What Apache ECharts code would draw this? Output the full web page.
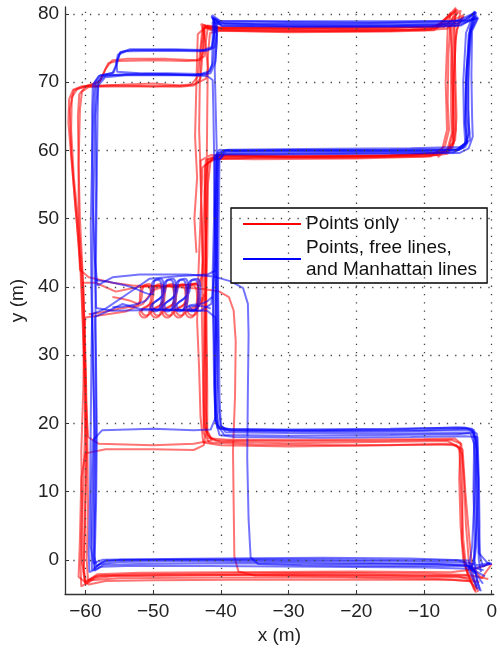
<!DOCTYPE html>
<html>
<head>
<meta charset="utf-8">
<script src="https://cdn.jsdelivr.net/npm/echarts@6/dist/echarts.min.js"></script>
<style>
  html, body { margin: 0; padding: 0; background: #fff; }
  #chart { width: 500px; height: 650px; }
</style>
</head>
<body>
<div id="chart"></div>
<script>
// tick values
var xTicks = [-60, -50, -40, -30, -20, -10, 0];
var yTicks = [0, 10, 20, 30, 40, 50, 60, 70, 80];

var redName = 'Points only';
var blueName = 'Points, free lines,\nand Manhattan lines';

// red tracks (points only), [x, y] in metres
var red1 = [[-2.4,-4.6],[-3.2,-2.9],[-5,-2.4],[-15,-2.2],[-30,-2.1],[-45,-2.3],[-56,-2.4],[-58.6,-2.7],[-60,-3.6],[-60.3,-1.8],[-60.1,5],[-59.9,15],[-60.1,25],[-60.4,35],[-60.7,42],[-61.3,50],[-62,58],[-62.5,64],[-62.4,67.5],[-61.8,68.9],[-60.5,69.4],[-55,69.6],[-50,69.8],[-46,69.5],[-44.3,69.7],[-43.4,70.8],[-43.1,74],[-42.8,77],[-42.6,78.4],[-41.8,77.9],[-38,77.7],[-25,77.6],[-12,77.7],[-8,77.9],[-5.3,80.9],[-6.1,78.3],[-6.4,74],[-6.5,67],[-6.3,63],[-6.9,60.6],[-8.6,59.5],[-20,59.1],[-32,59],[-40.2,58.9],[-41.9,58.3],[-42.4,54],[-42.6,45],[-42.8,36],[-42.6,26],[-42.4,20],[-41.9,17.9],[-40,17.3],[-30,17.1],[-15,17.3],[-6.5,17.4],[-4.8,16.5],[-4.5,10],[-4.2,3],[-3.8,-1],[-2.6,-4.4]];
var red2 = [[-0.3,-0.6],[-2.8,-1.4],[-6,-1.8],[-20,-1.7],[-40,-1.8],[-52,-1.9],[-58.2,-2.1],[-59.9,-3.2],[-60.5,-0.5],[-60.4,8],[-60.1,17],[-59.9,26],[-60.2,34],[-60.4,40.6],[-58.5,40.6],[-55.5,39.3],[-52,40],[-47,40.1],[-43.7,40.4],[-42.9,40.1],[-42.7,44],[-42.9,52],[-43,58.5],[-41.5,59.3],[-30,59.1],[-15,59.2],[-7.8,59.4],[-5.8,60.4],[-5.3,63],[-5.5,70],[-5.4,76],[-4.6,80.5],[-7.2,77.9],[-15,77.5],[-30,77.4],[-40,77.5],[-41.6,77.2],[-41.9,74],[-42,66],[-42.1,55],[-42.2,45],[-42.1,35],[-42,25],[-42,19],[-41.3,17.5],[-44,17],[-50,16.8],[-58,17],[-59.6,18],[-60,25],[-60.3,33],[-60.6,42],[-61.5,52],[-62.1,60],[-62.3,66],[-61.7,68.8],[-59.3,69.6],[-57.8,70.2],[-57,72],[-56,73.2],[-54,73.4],[-48,73.4],[-43.5,73.2],[-42.4,73.8],[-42.2,76],[-41.9,78.2],[-40,77.9],[-25,77.8],[-10,77.6],[-6.7,77.8],[-4.1,79.6],[-5.6,78],[-5.8,70],[-5.6,63],[-6.3,60.3],[-8,59]];
var red3 = [[-3,-2.6],[-12,-2.5],[-25,-2.4],[-35,-2.3],[-37.4,-1.7],[-38,0.5],[-38.1,8],[-38.2,16],[-37.9,24],[-37.8,32],[-38.1,36.5],[-38.8,38.5],[-40.2,39.3],[-42.5,39.7],[-48,40.1],[-53,40.2],[-56,40.6],[-59.5,41.4],[-60.8,42.5],[-61,50],[-61,58],[-61.1,65],[-60.9,68.2],[-60,69.3],[-56,69.5],[-50,69.4],[-45,69.5],[-43.8,69.7],[-42.2,70.5],[-41.9,72],[-42.3,76],[-42.5,78],[-41.2,77.9],[-30,77.9],[-15,78],[-9,78.1],[-7,78.6],[-5.3,80.7],[-5.5,78.5],[-5.4,72],[-5.2,65],[-5.4,61.5],[-6.8,59.7],[-15,59.2],[-30,59.1],[-40,59.2],[-41.5,58.6],[-41.9,55],[-42,45],[-42.3,35],[-42.4,25],[-42.5,19.5],[-41.5,17.8],[-39,17.6],[-25,17.6],[-10,17.7],[-5.5,17.8],[-4.6,17.1],[-4.8,12],[-4.6,5],[-4.2,0],[-3.5,-2.3],[-2.8,-3]];
var red4 = [[-2.2,-4.2],[-3.3,-3.1],[-8,-2.8],[-22,-2.6],[-40,-2.6],[-55,-2.7],[-59.2,-3],[-60.6,-3.9],[-60.7,-1],[-60.5,8],[-60.6,16],[-60.3,25],[-60.2,32],[-60,35.5],[-58,35.8],[-54,36.4],[-51.5,37.5],[-50,39.5],[-48,40.2],[-45,40.3],[-43.2,40.6],[-42.6,42],[-42.8,50],[-43,57],[-43.2,63],[-43.1,70],[-42.9,75],[-42.5,78.1],[-41.5,77.6],[-30,77.3],[-15,77.4],[-8.5,77.6],[-6,80.2],[-6.5,77.8],[-6.8,70],[-6.6,63],[-7.3,60.2],[-9,59.1],[-20,58.8],[-35,58.7],[-41.2,58.8],[-42.7,57.5],[-43,50],[-43.3,42],[-43.5,35],[-43.2,28],[-43,21],[-42.6,17.2],[-40,16.8],[-30,16.6],[-15,16.8],[-6,17],[-4.3,16.2],[-3.9,10],[-3.3,3],[-2.9,-1],[-1.5,-2.7],[0,-0.6]];
var red5 = [[-1.8,-3.2],[-6,-2.9],[-20,-2.9],[-38,-2.9],[-50,-3],[-57,-3.1],[-59.5,-3.6],[-61,-2.5],[-60.8,3],[-60.6,12],[-60,15.6],[-57,16.2],[-50,16.2],[-44,16.1],[-42.5,16.8],[-42.2,19],[-42.1,28],[-42.3,38],[-42.2,48],[-42.4,56],[-42.2,58.6],[-40.5,59.1],[-25,59],[-10,59.1],[-6.5,59.5],[-5.6,61],[-5.7,68],[-5.9,75],[-6.2,78.2],[-9,78],[-25,78.1],[-40,78],[-42,78.3],[-43.4,77],[-43.6,70],[-43.8,62],[-43.5,56],[-43.9,50],[-43.6,45]];
var red6 = [[-3.6,-2.2],[-10,-2],[-25,-1.9],[-40,-2],[-52,-2.1],[-58,-2.3],[-59.6,-3],[-59.8,0],[-59.6,8],[-59.7,17],[-59.9,26],[-60.1,34],[-60.4,42],[-60.8,50],[-61,58],[-60.8,66],[-60.5,68.6],[-59.5,69.3],[-52,69.4],[-46,69.3],[-44,69.5],[-43,70.5],[-42.7,74],[-42.4,77.5],[-42.3,78.3],[-41.4,77.7],[-30,77.5],[-18,77.5],[-9,77.7],[-5,80.6],[-5.9,78],[-6,72],[-6,66],[-5.9,62.5],[-6.5,60.3],[-8.2,59.3],[-20,58.9],[-35,58.9],[-41,58.7],[-42.3,57.8],[-42.3,50],[-42.2,40],[-42.3,30],[-42.2,22],[-42,18.3],[-40.8,17.5],[-30,17.4],[-15,17.5],[-6,17.6],[-4.5,17],[-4.1,12],[-3.8,5],[-3.4,0],[-3,-2],[-2,-4.7]];
var red7 = [[-0.5,-2.8],[-3,-2.3],[-12,-2.3],[-28,-2.2],[-45,-2.2],[-55,-2.3],[-58.5,-2.4],[-60.1,-3.3],[-60.2,-0.8],[-60,7],[-59.8,16],[-60,24],[-60.1,32],[-60.3,40],[-60.9,48],[-61.7,56],[-62.1,63],[-62,67.8],[-61.2,69],[-59.6,69.5],[-58,69.9],[-57.2,71.5],[-56.6,72.8],[-55.2,73.1],[-50,73.2],[-45,73.1],[-43,73.2],[-42.6,74.5],[-42.5,77.2],[-42.9,78.5],[-41.5,78],[-30,77.8],[-15,77.9],[-7.5,78.2],[-4.2,79.8],[-5.2,77.6],[-5.6,71],[-5.8,64],[-5.7,61.2],[-6.6,59.8],[-12,59.3],[-28,59.2],[-40.5,59.3],[-41.9,58.7],[-42.1,50],[-42.4,41],[-42.5,32],[-42.6,23],[-42.5,18.5],[-41.7,17.2],[-35,16.9],[-20,16.8],[-8,16.9],[-5.2,16.8],[-4.4,15.5],[-4.3,9],[-4.4,3],[-4,-0.5],[-3.4,-2.5],[-2.3,-4.8]];
// red loops in the middle room
var redLoops1 = [[-56,38.5],[-53.5,38],[-52.2,37.5],[-51.7,39.9],[-50.9,40.2],[-50.3,38.5],[-50.6,36.2],[-51.3,35.5],[-52,36.2],[-50.5,37.5],[-50,39.9],[-49.2,40.2],[-48.6,38.5],[-48.9,36.2],[-49.6,35.5],[-50.3,36.2],[-48.8,37.5],[-48.3,39.9],[-47.5,40.2],[-46.9,38.5],[-47.2,36.2],[-47.9,35.5],[-48.6,36.2],[-47.1,37.5],[-46.6,39.9],[-45.8,40.2],[-45.2,38.5],[-45.5,36.2],[-46.2,35.5],[-46.9,36.2],[-45.4,37.5],[-44.9,39.9],[-44.1,40.2],[-43.5,38.5],[-43.8,36.2],[-44.5,35.5],[-45.2,36.2],[-43.5,37],[-42.8,38.5]];
var redLoops2 = [[-59.5,36],[-55,36.8],[-51.9,37.8],[-51.4,40.1],[-50.6,40.4],[-50,38.6],[-50.3,36.4],[-51,35.8],[-51.7,36.5],[-50.2,37.8],[-49.7,40.1],[-48.9,40.4],[-48.3,38.6],[-48.6,36.4],[-49.3,35.8],[-50,36.5],[-48.5,37.8],[-48,40.1],[-47.2,40.4],[-46.6,38.6],[-46.9,36.4],[-47.6,35.8],[-48.3,36.5],[-46.8,37.8],[-46.3,40.1],[-45.5,40.4],[-44.9,38.6],[-45.2,36.4],[-45.9,35.8],[-46.6,36.5],[-45.1,37.8],[-44.6,40.1],[-43.8,40.4],[-43.2,38.6],[-43.5,36.4],[-44.2,35.8],[-44.9,36.5],[-43,37.5],[-42.5,39]];

// blue tracks (points, free lines and Manhattan lines)
var blue1 = [[-1.8,-4.5],[-2.4,-2],[-3.8,-0.7],[-15,-0.5],[-30,-0.3],[-45,-0.2],[-55,-0.3],[-57.8,-0.6],[-59,-1.5],[-59.1,0.5],[-58.9,8],[-58.7,18],[-58.8,28],[-59,38],[-58.9,48],[-58.7,58],[-58.6,66],[-58.4,69.8],[-57.5,70.9],[-54,71.2],[-48,71.3],[-43,71.2],[-41.6,71.6],[-41.1,73],[-40.9,76],[-41,79],[-41.4,79.6],[-40.2,78.7],[-35,78.5],[-20,78.4],[-8,78.4],[-5,78.6],[-2.3,80.2],[-3,77.8],[-3.4,72],[-3.5,66],[-3.3,62.5],[-3.9,60.5],[-5.4,59.9],[-15,59.8],[-30,59.7],[-39.5,59.7],[-40.6,58.9],[-40.8,52],[-41,44],[-41.1,36],[-40.9,28],[-40.7,22],[-40.3,19.5],[-38.5,19.1],[-28,19],[-15,19.1],[-5,19.4],[-2.9,19.2],[-2.4,17.8],[-2.3,12],[-2.1,5],[-1.9,0],[-1.6,-1.8]];
var blue2 = [[-0.2,-0.4],[-2,-0.8],[-5,-0.1],[-20,0],[-35,0.1],[-48,0],[-57,-0.1],[-58.3,-0.9],[-58.7,0.5],[-58.5,10],[-58.4,20],[-58.5,30],[-58.6,35.6],[-57.2,36.2],[-54.5,37.5],[-52,36.8],[-46,36.6],[-43,36.5],[-41.4,37.5],[-40.8,44],[-40.9,52],[-41,60],[-41.1,66],[-41.2,70.3],[-42,70.9],[-46,71.1],[-52,71.3],[-55.3,71.5],[-55.4,73],[-54.8,74.4],[-53,74.7],[-46,74.7],[-42,74.6],[-40.9,75.1],[-40.6,77],[-40.9,79.3],[-39.8,78.2],[-28,78.1],[-14,78.2],[-5,78.3],[-2,79.4],[-2.9,77.5],[-3,71],[-2.9,65],[-2.8,62],[-3.4,60.3],[-4.8,59.6],[-18,59.5],[-32,59.4],[-39.6,59.4],[-40.2,58.6],[-40.3,50],[-40.4,40],[-40.3,32],[-40.2,24],[-40,19.8],[-39.3,18.7],[-30,18.6],[-15,18.5],[-5,18.6],[-3.1,18.5],[-2.6,17],[-2.7,10],[-2.5,3],[-2.6,0],[-2.3,-1.2],[0,-0.5]];
var blue3 = [[-1.2,-1.5],[-4,-0.9],[-15,-0.9],[-28,-0.8],[-34.5,-0.6],[-35.6,0.4],[-35.9,6],[-36.1,15],[-36,25],[-35.9,33],[-36,37.5],[-36.7,39.8],[-38.5,40.8],[-41,41.5],[-45,41.8],[-52,41.8],[-56,41.4],[-58.2,40.2],[-58.6,44],[-58.9,52],[-59,60],[-59,66],[-58.9,69.6],[-58,70.9],[-55.8,71.4],[-55.3,72.8],[-54.9,74.3],[-53.5,74.8],[-47,74.8],[-42.5,74.7],[-41.2,75.2],[-40.8,78],[-41.3,79.8],[-40,78.9],[-30,78.8],[-18,78.7],[-6,78.9],[-4,79],[-2.4,80.3],[-3.4,77],[-3.8,70],[-3.9,64],[-3.6,61],[-4.8,60.1],[-10,59.9],[-25,59.9],[-38,59.9],[-40.2,60.1],[-40.9,59],[-41,50],[-41.2,42],[-41.1,34],[-41,26],[-40.8,20.6],[-40.2,18.3],[-38,18],[-25,17.9],[-12,18],[-4,18.1],[-2.1,18],[-1.9,12],[-1.8,5],[-1.9,1],[-0.5,-0.6],[0,-0.6]];
var blue4 = [[-2.5,-2],[-3.4,-0.1],[-12,0.2],[-25,0.3],[-40,0.2],[-52,0.1],[-57.5,0],[-58.8,-0.5],[-59.2,2],[-59.1,10],[-58.9,17.5],[-57.5,19],[-50,19.2],[-44,19],[-41.5,19.1],[-40.7,21],[-40.6,30],[-40.8,35.5],[-42,36.5],[-50,36.6],[-56,36.5],[-58.4,36.9],[-58.6,42],[-58.4,55],[-58.5,65],[-58.1,70],[-57,71],[-50,71.1],[-44,71],[-41.9,71.3],[-41.3,72.5],[-41.2,76],[-41.2,78.8],[-40.3,78.5],[-30,78.3],[-15,78.3],[-5,78.6],[-2.1,79.4],[-3.3,77],[-3.8,70],[-3.9,64],[-3.7,61.2],[-5,60.2],[-15,60.1],[-30,60],[-39.2,59.9],[-40.5,59.2],[-40.6,50],[-40.5,42],[-40.4,32],[-40.6,24],[-40.5,19.8],[-39.5,18.3],[-30,18.2],[-15,18.3],[-5,18.4],[-2.7,18.7],[-2.5,15],[-2.6,8],[-2.9,2],[-3.4,-1.4],[-2.1,-4.3]];
var blue5 = [[-1,-2.4],[-3,-1.3],[-10,-1.1],[-25,-1],[-42,-0.9],[-54,-0.9],[-57.6,-1],[-59.4,-1.8],[-59.5,1],[-59.3,10],[-59.2,20],[-59.1,30],[-59,36],[-57,36.8],[-53,39.5],[-50.5,41.2],[-46,41.6],[-42,41.8],[-40.6,42.5],[-40.5,50],[-40.6,60],[-40.8,68],[-40.9,72],[-40.6,76],[-40.5,78.9],[-39.5,78.6],[-25,78.6],[-10,78.7],[-5.5,78.8],[-2.6,80.1],[-3.2,77.8],[-3.5,70],[-3.4,64],[-3.2,61.5],[-4.6,60.5],[-12,60.3],[-28,60.2],[-39,60.1],[-40.4,59.6],[-40.7,52],[-40.6,44],[-40.8,36],[-40.9,27],[-40.8,21],[-40.5,19.3],[-39,19],[-25,18.9],[-10,19],[-3.5,19.2],[-2.2,18.5],[-2,12],[-2.2,5],[-2.6,0.5],[-3,-1.4],[-2.2,-3.9]];
var blue6 = [[-1.3,-3.5],[-2.6,-1.6],[-4,-0.4],[-15,-0.2],[-30,-0.1],[-45,0],[-55,0],[-57.6,-0.3],[-58.6,-1.2],[-58.6,1],[-58.4,9],[-58.3,18],[-58.4,27],[-58.5,37],[-58.4,47],[-58.3,57],[-58.2,65],[-58.1,69.5],[-57.1,70.7],[-54,71],[-48,71],[-43,71],[-41.5,71.3],[-40.8,73],[-40.6,76],[-40.7,78.9],[-41.2,79.4],[-40,78.3],[-35,78.2],[-20,78.1],[-8,78.1],[-4.5,78.3],[-2.2,79.7],[-3.1,77.6],[-3.7,72],[-3.8,66],[-3.5,62.3],[-4.2,60.4],[-5.6,59.7],[-15,59.6],[-30,59.5],[-39.4,59.5],[-40.3,58.6],[-40.5,52],[-40.7,44],[-40.6,36],[-40.5,28],[-40.3,22],[-40,19.6],[-38.7,18.9],[-28,18.8],[-15,18.8],[-5,19],[-3,18.9],[-2.3,17.5],[-2,12],[-1.9,5],[-1.7,0.5],[-1.3,-1],[-0.3,-0.4]];
var blue7 = [[-2.8,-0.9],[-8,-0.6],[-22,-0.6],[-38,-0.5],[-52,-0.6],[-57.3,-0.7],[-58.6,-1.6],[-58.8,0],[-58.7,9],[-58.6,19],[-58.9,29],[-59.1,39],[-59.2,49],[-59,59],[-58.8,67],[-58.6,70],[-57.8,71],[-56,71.3],[-55.5,72.4],[-55.2,74],[-54,74.5],[-48,74.6],[-43,74.5],[-41.4,74.9],[-41,77],[-41.1,79.4],[-40.3,79],[-30,78.9],[-15,78.9],[-6,79],[-3.5,79.1],[-2.5,80.4],[-3.8,77.2],[-4.2,70],[-4.1,64],[-3.9,61],[-5.2,60.1],[-15,60],[-30,60],[-39.5,60],[-40.7,59.3],[-40.9,51],[-40.8,43],[-40.7,34],[-40.9,25],[-40.8,20.3],[-40.1,19.2],[-30,19.1],[-15,19.2],[-4,19.4],[-2.6,19],[-2.2,16],[-2.4,9],[-2.3,2],[-2.6,-0.5],[-2.1,-3.2],[-1.6,-4.6]];
// blue loops in the middle room
var blueLoops1 = [[-56,37],[-52,37.6],[-50.5,38.7],[-50,40.8],[-49.2,41],[-48.7,39],[-49,36.9],[-49.7,36.4],[-50.4,37],[-48.7,38.7],[-48.2,40.8],[-47.4,41],[-46.9,39],[-47.2,36.9],[-47.9,36.4],[-48.6,37],[-46.9,38.7],[-46.4,40.8],[-45.6,41],[-45.1,39],[-45.4,36.9],[-46.1,36.4],[-46.8,37],[-45.1,38.7],[-44.6,40.8],[-43.8,41],[-43.3,39],[-43.6,36.9],[-44.3,36.4],[-45,37],[-43,37.2],[-41.5,36.8]];
var blueLoops2 = [[-58.5,41],[-54,40.2],[-50.2,38.9],[-49.7,41],[-48.9,41.2],[-48.4,39.2],[-48.7,37.1],[-49.4,36.6],[-50.1,37.2],[-48.4,38.9],[-47.9,41],[-47.1,41.2],[-46.6,39.2],[-46.9,37.1],[-47.6,36.6],[-48.3,37.2],[-46.6,38.9],[-46.1,41],[-45.3,41.2],[-44.8,39.2],[-45.1,37.1],[-45.8,36.6],[-46.5,37.2],[-44.8,38.9],[-44.3,41],[-43.5,41.2],[-43,39.2],[-43.3,37.1],[-44,36.6],[-44.7,37.2],[-42.6,37.6],[-41.3,38.5]];

var redTracks = [red1, red2, red3, red4, red5, red6, red7];
var blueTracks = [blue1, blue2, blue3, blue4, blue5, blue6, blue7];
var redLoops = [redLoops1, redLoops2];
var blueLoops = [blueLoops1, blueLoops2];

var myChart = echarts.init(document.getElementById('chart'));

function trackSeries(name, color, data, smooth) {
    return {
        name: name,
        type: 'line',
        data: data,
        showSymbol: false,
        symbol: 'none',
        smooth: smooth,
        z: 3,
        itemStyle: { color: color, opacity: 1 },
        lineStyle: { color: color, width: 2, opacity: 0.55 }
    };
}

var series = [{
    // dotted grid
    name: 'grid',
    type: 'line',
    data: [],
    z: 1,
    silent: true,
    markLine: {
        silent: true,
        symbol: 'none',
        label: { show: false },
        lineStyle: { color: '#444', width: 1.3, type: [1.3, 7] },
        data: xTicks.map(function (v) { return { xAxis: v }; })
            .concat(yTicks.map(function (v) { return { yAxis: v }; }))
    }
}];
redTracks.forEach(function (t) { series.push(trackSeries(redName, '#ff0000', t, false)); });
redLoops.forEach(function (t) { series.push(trackSeries(redName, '#ff0000', t, 0.5)); });
blueTracks.forEach(function (t) { series.push(trackSeries(blueName, '#0000ff', t, false)); });
blueLoops.forEach(function (t) { series.push(trackSeries(blueName, '#0000ff', t, 0.5)); });

var axisFont = { fontFamily: 'Liberation Sans', fontSize: 19, color: '#222' };
function minusLabel(v) { return String(v).replace('-', '\u2212'); }

var option = {
    animation: false,
    backgroundColor: '#fff',
    grid: { left: 63, right: 3, top: 7, bottom: 54 },
    legend: {
        data: [redName, blueName],
        orient: 'vertical',
        left: 231,
        top: 208,
        padding: [5, 10, 2, 12],
        itemGap: 2,
        itemWidth: 58,
        itemHeight: 2,
        icon: 'rect',
        backgroundColor: '#fff',
        borderColor: '#000',
        borderWidth: 1.3,
        textStyle: { fontFamily: 'Liberation Sans', fontSize: 19, lineHeight: 22, color: '#111' }
    },
    xAxis: {
        type: 'value',
        min: -63,
        max: 0.3,
        splitNumber: 6,
        name: 'x (m)',
        nameLocation: 'middle',
        nameGap: 32,
        nameTextStyle: { fontFamily: 'Liberation Sans', fontSize: 19, color: '#222' },
        axisLine: { onZero: false, lineStyle: { color: '#333', width: 1.3 } },
        axisTick: { inside: true, length: 4, lineStyle: { color: '#333' } },
        axisLabel: Object.assign({ margin: 8, showMinLabel: false, showMaxLabel: false, formatter: minusLabel }, axisFont),
        splitLine: { show: false }
    },
    yAxis: {
        type: 'value',
        min: -5,
        max: 81,
        splitNumber: 8,
        name: 'y (m)',
        nameLocation: 'middle',
        nameGap: 36,
        nameTextStyle: { fontFamily: 'Liberation Sans', fontSize: 19, color: '#222' },
        axisLine: { onZero: false, lineStyle: { color: '#333', width: 1.3 } },
        axisTick: { inside: true, length: 4, lineStyle: { color: '#333' } },
        axisLabel: Object.assign({ margin: 6, showMinLabel: false, showMaxLabel: false, formatter: minusLabel }, axisFont),
        splitLine: { show: false }
    },
    series: series
};

myChart.setOption(option);
</script>
</body>
</html>
